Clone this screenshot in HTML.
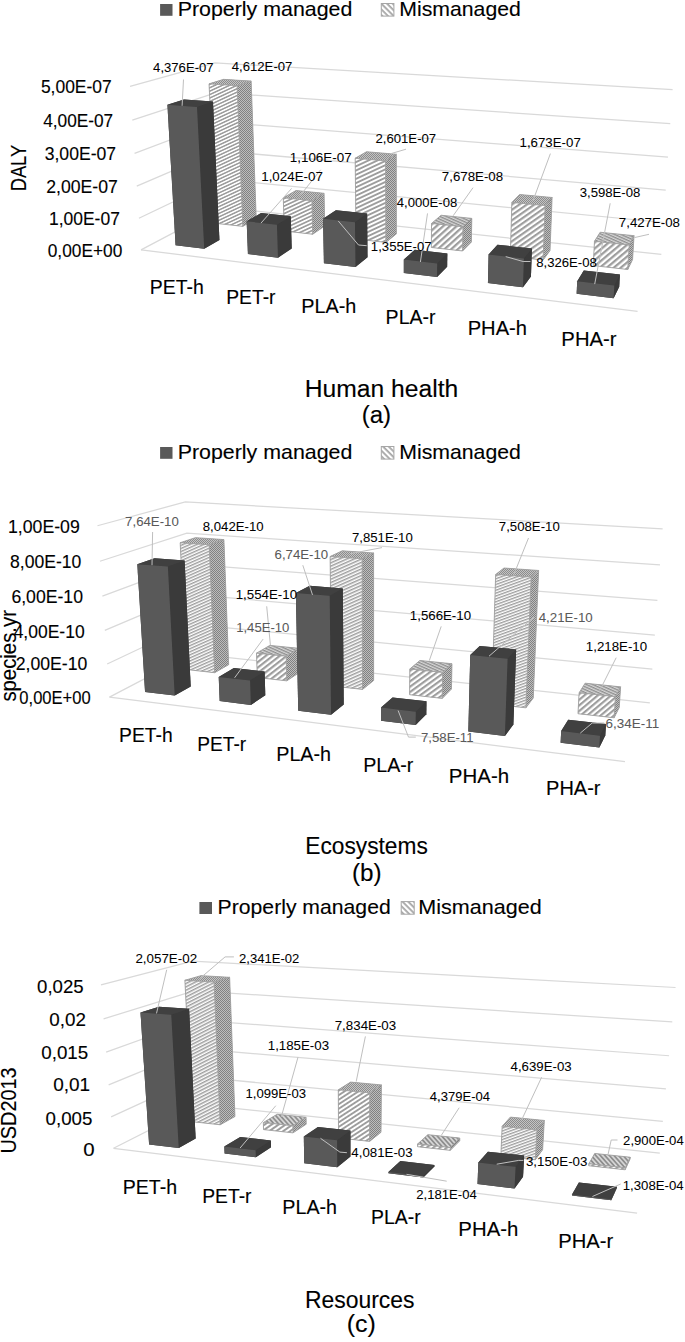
<!DOCTYPE html>
<html><head><meta charset="utf-8"><style>
html,body{margin:0;padding:0;background:#fff;overflow:hidden;}
svg{display:block;font-family:"Liberation Sans",sans-serif;}
</style></head><body>
<svg width="685" height="1342" viewBox="0 0 685 1342">
<defs>
<pattern id="front" patternUnits="userSpaceOnUse" width="4" height="4" patternTransform="rotate(-32)">
<rect width="4" height="4" fill="#fff"/><rect width="4" height="1.9" fill="#a3a3a3"/></pattern>
<pattern id="side" patternUnits="userSpaceOnUse" width="2" height="2">
<rect width="2" height="2" fill="#bdbdbd"/><rect width="1" height="1" fill="#818181"/><rect x="1" y="1" width="1" height="1" fill="#818181"/></pattern>
<pattern id="top" patternUnits="userSpaceOnUse" width="3" height="3" patternTransform="rotate(8)">
<rect width="3" height="3" fill="#c8c8c8"/><rect width="3" height="1.4" fill="#9a9a9a"/></pattern>
<pattern id="leg" patternUnits="userSpaceOnUse" width="4" height="4" patternTransform="rotate(45)">
<rect width="4" height="4" fill="#fff"/><rect width="4" height="1.8" fill="#a6a6a6"/></pattern>
<pattern id="pf0" patternUnits="userSpaceOnUse" width="3.10" height="3.10" patternTransform="rotate(-25.0)"><rect width="3.10" height="3.10" fill="#fff"/><rect width="3.10" height="1.55" fill="#9d9d9d"/></pattern>
<pattern id="pt1" patternUnits="userSpaceOnUse" width="2" height="2"><rect width="2" height="2" fill="#c4c4c4"/><rect width="1" height="1" fill="#8c8c8c"/><rect x="1" y="1" width="1" height="1" fill="#8c8c8c"/></pattern>
<pattern id="pf2" patternUnits="userSpaceOnUse" width="3.40" height="3.40" patternTransform="rotate(-25.0)"><rect width="3.40" height="3.40" fill="#fff"/><rect width="3.40" height="1.70" fill="#9d9d9d"/></pattern>
<pattern id="pt3" patternUnits="userSpaceOnUse" width="2" height="2"><rect width="2" height="2" fill="#c4c4c4"/><rect width="1" height="1" fill="#8c8c8c"/><rect x="1" y="1" width="1" height="1" fill="#8c8c8c"/></pattern>
<pattern id="pf4" patternUnits="userSpaceOnUse" width="3.80" height="3.80" patternTransform="rotate(-25.0)"><rect width="3.80" height="3.80" fill="#fff"/><rect width="3.80" height="1.90" fill="#9d9d9d"/></pattern>
<pattern id="pt5" patternUnits="userSpaceOnUse" width="2" height="2"><rect width="2" height="2" fill="#c4c4c4"/><rect width="1" height="1" fill="#8c8c8c"/><rect x="1" y="1" width="1" height="1" fill="#8c8c8c"/></pattern>
<pattern id="pf6" patternUnits="userSpaceOnUse" width="4.50" height="4.50" patternTransform="rotate(-42.0)"><rect width="4.50" height="4.50" fill="#fff"/><rect width="4.50" height="2.25" fill="#9d9d9d"/></pattern>
<pattern id="pt7" patternUnits="userSpaceOnUse" width="2.6" height="2.6" patternTransform="rotate(24.0)"><rect width="5" height="5" fill="#d6d6d6"/><rect width="5" height="1.30" fill="#8e8e8e"/></pattern>
<pattern id="pf8" patternUnits="userSpaceOnUse" width="4.30" height="4.30" patternTransform="rotate(-35.0)"><rect width="4.30" height="4.30" fill="#fff"/><rect width="4.30" height="2.15" fill="#9d9d9d"/></pattern>
<pattern id="pt9" patternUnits="userSpaceOnUse" width="2" height="2"><rect width="2" height="2" fill="#c4c4c4"/><rect width="1" height="1" fill="#8c8c8c"/><rect x="1" y="1" width="1" height="1" fill="#8c8c8c"/></pattern>
<pattern id="pf10" patternUnits="userSpaceOnUse" width="4.50" height="4.50" patternTransform="rotate(-40.0)"><rect width="4.50" height="4.50" fill="#fff"/><rect width="4.50" height="2.25" fill="#9d9d9d"/></pattern>
<pattern id="pt11" patternUnits="userSpaceOnUse" width="2.6" height="2.6" patternTransform="rotate(24.0)"><rect width="5" height="5" fill="#d6d6d6"/><rect width="5" height="1.30" fill="#8e8e8e"/></pattern>
<pattern id="pf12" patternUnits="userSpaceOnUse" width="2.80" height="2.80" patternTransform="rotate(-24.0)"><rect width="2.80" height="2.80" fill="#fff"/><rect width="2.80" height="1.40" fill="#9d9d9d"/></pattern>
<pattern id="pt13" patternUnits="userSpaceOnUse" width="2" height="2"><rect width="2" height="2" fill="#c4c4c4"/><rect width="1" height="1" fill="#8c8c8c"/><rect x="1" y="1" width="1" height="1" fill="#8c8c8c"/></pattern>
<pattern id="pf14" patternUnits="userSpaceOnUse" width="4.30" height="4.30" patternTransform="rotate(-38.0)"><rect width="4.30" height="4.30" fill="#fff"/><rect width="4.30" height="2.15" fill="#9d9d9d"/></pattern>
<pattern id="pt15" patternUnits="userSpaceOnUse" width="2.6" height="2.6" patternTransform="rotate(24.0)"><rect width="5" height="5" fill="#d6d6d6"/><rect width="5" height="1.30" fill="#8e8e8e"/></pattern>
<pattern id="pf16" patternUnits="userSpaceOnUse" width="3.00" height="3.00" patternTransform="rotate(-24.0)"><rect width="3.00" height="3.00" fill="#fff"/><rect width="3.00" height="1.50" fill="#9d9d9d"/></pattern>
<pattern id="pt17" patternUnits="userSpaceOnUse" width="2" height="2"><rect width="2" height="2" fill="#c4c4c4"/><rect width="1" height="1" fill="#8c8c8c"/><rect x="1" y="1" width="1" height="1" fill="#8c8c8c"/></pattern>
<pattern id="pf18" patternUnits="userSpaceOnUse" width="4.30" height="4.30" patternTransform="rotate(-36.0)"><rect width="4.30" height="4.30" fill="#fff"/><rect width="4.30" height="2.15" fill="#9d9d9d"/></pattern>
<pattern id="pt19" patternUnits="userSpaceOnUse" width="2.6" height="2.6" patternTransform="rotate(24.0)"><rect width="5" height="5" fill="#d6d6d6"/><rect width="5" height="1.30" fill="#8e8e8e"/></pattern>
<pattern id="pf20" patternUnits="userSpaceOnUse" width="2.70" height="2.70" patternTransform="rotate(-20.0)"><rect width="2.70" height="2.70" fill="#fff"/><rect width="2.70" height="1.35" fill="#9d9d9d"/></pattern>
<pattern id="pt21" patternUnits="userSpaceOnUse" width="2" height="2"><rect width="2" height="2" fill="#c4c4c4"/><rect width="1" height="1" fill="#8c8c8c"/><rect x="1" y="1" width="1" height="1" fill="#8c8c8c"/></pattern>
<pattern id="pf22" patternUnits="userSpaceOnUse" width="4.30" height="4.30" patternTransform="rotate(-40.0)"><rect width="4.30" height="4.30" fill="#fff"/><rect width="4.30" height="2.15" fill="#9d9d9d"/></pattern>
<pattern id="pt23" patternUnits="userSpaceOnUse" width="2.6" height="2.6" patternTransform="rotate(24.1)"><rect width="5" height="5" fill="#d6d6d6"/><rect width="5" height="1.30" fill="#8e8e8e"/></pattern>
<pattern id="pf24" patternUnits="userSpaceOnUse" width="3.00" height="3.00" patternTransform="rotate(-27.0)"><rect width="3.00" height="3.00" fill="#fff"/><rect width="3.00" height="1.50" fill="#9d9d9d"/></pattern>
<pattern id="pt25" patternUnits="userSpaceOnUse" width="2" height="2"><rect width="2" height="2" fill="#c4c4c4"/><rect width="1" height="1" fill="#8c8c8c"/><rect x="1" y="1" width="1" height="1" fill="#8c8c8c"/></pattern>
<pattern id="pf26" patternUnits="userSpaceOnUse" width="4.00" height="4.00" patternTransform="rotate(-35.0)"><rect width="4.00" height="4.00" fill="#fff"/><rect width="4.00" height="2.00" fill="#9d9d9d"/></pattern>
<pattern id="pt27" patternUnits="userSpaceOnUse" width="3.4" height="3.4" patternTransform="rotate(48.2)"><rect width="5" height="5" fill="#d6d6d6"/><rect width="5" height="1.70" fill="#8e8e8e"/></pattern>
<pattern id="pf28" patternUnits="userSpaceOnUse" width="3.80" height="3.80" patternTransform="rotate(-33.0)"><rect width="3.80" height="3.80" fill="#fff"/><rect width="3.80" height="1.90" fill="#9d9d9d"/></pattern>
<pattern id="pt29" patternUnits="userSpaceOnUse" width="2" height="2"><rect width="2" height="2" fill="#c4c4c4"/><rect width="1" height="1" fill="#8c8c8c"/><rect x="1" y="1" width="1" height="1" fill="#8c8c8c"/></pattern>
<pattern id="pf30" patternUnits="userSpaceOnUse" width="4.30" height="4.30" patternTransform="rotate(-40.0)"><rect width="4.30" height="4.30" fill="#fff"/><rect width="4.30" height="2.15" fill="#9d9d9d"/></pattern>
<pattern id="pt31" patternUnits="userSpaceOnUse" width="3.4" height="3.4" patternTransform="rotate(48.3)"><rect width="5" height="5" fill="#d6d6d6"/><rect width="5" height="1.70" fill="#8e8e8e"/></pattern>
<pattern id="pf32" patternUnits="userSpaceOnUse" width="2.70" height="2.70" patternTransform="rotate(-20.0)"><rect width="2.70" height="2.70" fill="#fff"/><rect width="2.70" height="1.35" fill="#9d9d9d"/></pattern>
<pattern id="pt33" patternUnits="userSpaceOnUse" width="2" height="2"><rect width="2" height="2" fill="#c4c4c4"/><rect width="1" height="1" fill="#8c8c8c"/><rect x="1" y="1" width="1" height="1" fill="#8c8c8c"/></pattern>
<pattern id="pf34" patternUnits="userSpaceOnUse" width="4.30" height="4.30" patternTransform="rotate(-40.0)"><rect width="4.30" height="4.30" fill="#fff"/><rect width="4.30" height="2.15" fill="#9d9d9d"/></pattern>
<pattern id="pt35" patternUnits="userSpaceOnUse" width="3.4" height="3.4" patternTransform="rotate(48.3)"><rect width="5" height="5" fill="#d6d6d6"/><rect width="5" height="1.70" fill="#8e8e8e"/></pattern>
</defs>
<rect x="160.10" y="4.00" width="12.4" height="11.8" fill="#595959"/>
<text x="177.69" y="16.00" font-size="20.29" fill="#000" stroke="#000" stroke-width="0.12" textLength="174.62" lengthAdjust="spacingAndGlyphs">Properly managed</text>
<rect x="381.30" y="3.50" width="12.6" height="12.6" fill="url(#leg)" stroke="#a6a6a6" stroke-width="1"/>
<text x="399.30" y="16.00" font-size="20.29" fill="#000" stroke="#000" stroke-width="0.12" textLength="121.57" lengthAdjust="spacingAndGlyphs">Mismanaged</text>
<text x="40.90" y="92.80" font-size="17.86" fill="#000" stroke="#000" stroke-width="0.12" textLength="70.84" lengthAdjust="spacingAndGlyphs">5,00E-07</text>
<text x="43.15" y="126.80" font-size="17.86" fill="#000" stroke="#000" stroke-width="0.12" textLength="70.08" lengthAdjust="spacingAndGlyphs">4,00E-07</text>
<text x="44.70" y="160.00" font-size="17.86" fill="#000" stroke="#000" stroke-width="0.12" textLength="71.35" lengthAdjust="spacingAndGlyphs">3,00E-07</text>
<text x="46.22" y="192.70" font-size="17.86" fill="#000" stroke="#000" stroke-width="0.12" textLength="71.63" lengthAdjust="spacingAndGlyphs">2,00E-07</text>
<text x="49.00" y="225.00" font-size="17.86" fill="#000" stroke="#000" stroke-width="0.12" textLength="70.84" lengthAdjust="spacingAndGlyphs">1,00E-07</text>
<text x="47.71" y="256.80" font-size="17.86" fill="#000" stroke="#000" stroke-width="0.12" textLength="74.57" lengthAdjust="spacingAndGlyphs">0,00E+00</text>
<text x="-1.47" y="0.00" font-size="21.43" fill="#000" stroke="#000" stroke-width="0.12" textLength="46.58" lengthAdjust="spacingAndGlyphs" transform="translate(25.9,189.9) rotate(-90)">DALY</text>
<polyline points="141.04,249.85 221.49,207.51 661.35,254.35" fill="none" stroke="#d9d9d9" stroke-width="1.25"/>
<polyline points="138.91,218.24 220.20,179.42 663.53,222.50" fill="none" stroke="#d9d9d9" stroke-width="1.25"/>
<polyline points="136.75,186.11 218.89,150.92 665.74,190.11" fill="none" stroke="#d9d9d9" stroke-width="1.25"/>
<polyline points="134.55,153.44 217.56,122.01 667.98,157.18" fill="none" stroke="#d9d9d9" stroke-width="1.25"/>
<polyline points="132.31,120.21 216.22,92.66 670.27,123.68" fill="none" stroke="#d9d9d9" stroke-width="1.25"/>
<polyline points="130.04,86.42 214.85,62.88 672.59,89.61" fill="none" stroke="#d9d9d9" stroke-width="1.25"/>
<polyline points="141.04,249.85 637.55,311.39" fill="none" stroke="#d9d9d9" stroke-width="1.25"/>
<polygon points="215.69,223.33 242.84,226.37 256.22,218.62 251.12,81.12 223.60,79.37 209.05,83.87" fill="#a0a0a0"/>
<polygon points="237.13,85.71 251.12,81.12 256.22,218.62 242.84,226.37" fill="url(#side)" stroke="#a0a0a0" stroke-width="0.9" stroke-linejoin="round"/>
<polygon points="209.05,83.87 223.60,79.37 251.12,81.12 237.13,85.71" fill="url(#pt1)" stroke="#a0a0a0" stroke-width="0.9" stroke-linejoin="round"/>
<polygon points="209.05,83.87 237.13,85.71 242.84,226.37 215.69,223.33" fill="url(#pf0)" stroke="#a0a0a0" stroke-width="0.9" stroke-linejoin="round"/>
<polygon points="284.28,231.01 312.70,234.19 324.69,226.08 324.06,193.31 295.98,190.54 283.29,197.77" fill="#a0a0a0"/>
<polygon points="311.94,200.67 324.06,193.31 324.69,226.08 312.70,234.19" fill="url(#side)" stroke="#a0a0a0" stroke-width="0.9" stroke-linejoin="round"/>
<polygon points="283.29,197.77 295.98,190.54 324.06,193.31 311.94,200.67" fill="url(#pt3)" stroke="#a0a0a0" stroke-width="0.9" stroke-linejoin="round"/>
<polygon points="283.29,197.77 311.94,200.67 312.70,234.19 284.28,231.01" fill="url(#pf2)" stroke="#a0a0a0" stroke-width="0.9" stroke-linejoin="round"/>
<polygon points="356.09,239.05 385.86,242.39 396.33,233.88 396.26,154.24 366.53,151.74 355.18,158.24" fill="#a0a0a0"/>
<polygon points="385.57,160.86 396.26,154.24 396.33,233.88 385.86,242.39" fill="url(#side)" stroke="#a0a0a0" stroke-width="0.9" stroke-linejoin="round"/>
<polygon points="355.18,158.24 366.53,151.74 396.26,154.24 385.57,160.86" fill="url(#pt5)" stroke="#a0a0a0" stroke-width="0.9" stroke-linejoin="round"/>
<polygon points="355.18,158.24 385.57,160.86 385.86,242.39 356.09,239.05" fill="url(#pf4)" stroke="#a0a0a0" stroke-width="0.9" stroke-linejoin="round"/>
<polygon points="431.35,247.48 462.57,250.98 471.35,242.06 471.79,218.38 441.08,215.26 431.55,223.46" fill="#a0a0a0"/>
<polygon points="462.97,226.74 471.79,218.38 471.35,242.06 462.57,250.98" fill="url(#side)" stroke="#a0a0a0" stroke-width="0.9" stroke-linejoin="round"/>
<polygon points="431.55,223.46 441.08,215.26 471.79,218.38 462.97,226.74" fill="url(#pt7)" stroke="#a0a0a0" stroke-width="0.9" stroke-linejoin="round"/>
<polygon points="431.55,223.46 462.97,226.74 462.57,250.98 431.35,247.48" fill="url(#pf6)" stroke="#a0a0a0" stroke-width="0.9" stroke-linejoin="round"/>
<polygon points="510.31,256.32 543.10,259.99 550.01,250.62 552.09,197.50 519.61,194.49 511.87,202.40" fill="#a0a0a0"/>
<polygon points="545.14,205.58 552.09,197.50 550.01,250.62 543.10,259.99" fill="url(#side)" stroke="#a0a0a0" stroke-width="0.9" stroke-linejoin="round"/>
<polygon points="511.87,202.40 519.61,194.49 552.09,197.50 545.14,205.58" fill="url(#pt9)" stroke="#a0a0a0" stroke-width="0.9" stroke-linejoin="round"/>
<polygon points="511.87,202.40 545.14,205.58 543.10,259.99 510.31,256.32" fill="url(#pf8)" stroke="#a0a0a0" stroke-width="0.9" stroke-linejoin="round"/>
<polygon points="593.26,265.61 627.73,269.47 632.56,259.62 634.02,235.69 600.18,232.24 594.48,241.31" fill="#a0a0a0"/>
<polygon points="629.19,244.95 634.02,235.69 632.56,259.62 627.73,269.47" fill="url(#side)" stroke="#a0a0a0" stroke-width="0.9" stroke-linejoin="round"/>
<polygon points="594.48,241.31 600.18,232.24 634.02,235.69 629.19,244.95" fill="url(#pt11)" stroke="#a0a0a0" stroke-width="0.9" stroke-linejoin="round"/>
<polygon points="594.48,241.31 629.19,244.95 627.73,269.47 593.26,265.61" fill="url(#pf10)" stroke="#a0a0a0" stroke-width="0.9" stroke-linejoin="round"/>
<polygon points="175.60,245.29 204.22,248.75 219.45,239.92 212.97,101.51 184.00,99.44 167.42,104.78" fill="#3a3a3a"/>
<polygon points="197.00,106.96 212.97,101.51 219.45,239.92 204.22,248.75" fill="#3a3a3a"/>
<polygon points="167.42,104.78 184.00,99.44 212.97,101.51 197.00,106.96" fill="#404040"/>
<polygon points="167.42,104.78 197.00,106.96 204.22,248.75 175.60,245.29" fill="#595959"/>
<polygon points="247.95,254.04 277.99,257.67 291.69,248.40 290.79,216.19 261.15,213.02 246.66,221.34" fill="#3a3a3a"/>
<polygon points="276.94,224.68 290.79,216.19 291.69,248.40 277.99,257.67" fill="#3a3a3a"/>
<polygon points="246.66,221.34 261.15,213.02 290.79,216.19 276.94,224.68" fill="#404040"/>
<polygon points="246.66,221.34 276.94,224.68 277.99,257.67 247.95,254.04" fill="#595959"/>
<polygon points="323.93,263.23 355.51,267.05 367.50,257.30 367.14,213.59 335.93,210.36 323.06,218.84" fill="#3a3a3a"/>
<polygon points="354.99,222.25 367.14,213.59 367.50,257.30 355.51,267.05" fill="#3a3a3a"/>
<polygon points="323.06,218.84 335.93,210.36 367.14,213.59 354.99,222.25" fill="#404040"/>
<polygon points="323.06,218.84 354.99,222.25 355.51,267.05 323.93,263.23" fill="#595959"/>
<polygon points="403.83,272.89 437.06,276.91 447.15,266.65 447.32,253.56 414.76,249.87 403.84,259.59" fill="#3a3a3a"/>
<polygon points="437.19,263.49 447.32,253.56 447.15,266.65 437.06,276.91" fill="#3a3a3a"/>
<polygon points="403.84,259.59 414.76,249.87 447.32,253.56 437.19,263.49" fill="#404040"/>
<polygon points="403.84,259.59 437.19,263.49 437.06,276.91 403.83,272.89" fill="#595959"/>
<polygon points="487.95,283.06 522.97,287.30 530.94,276.49 531.91,248.48 497.51,244.74 488.61,254.62" fill="#3a3a3a"/>
<polygon points="523.90,258.57 531.91,248.48 530.94,276.49 522.97,287.30" fill="#3a3a3a"/>
<polygon points="488.61,254.62 497.51,244.74 531.91,248.48 523.90,258.57" fill="#404040"/>
<polygon points="488.61,254.62 523.90,258.57 522.97,287.30 487.95,283.06" fill="#595959"/>
<polygon points="576.64,293.79 613.60,298.26 619.20,286.84 619.91,274.51 583.81,270.40 577.22,281.25" fill="#3a3a3a"/>
<polygon points="614.31,285.60 619.91,274.51 619.20,286.84 613.60,298.26" fill="#3a3a3a"/>
<polygon points="577.22,281.25 583.81,270.40 619.91,274.51 614.31,285.60" fill="#404040"/>
<polygon points="577.22,281.25 614.31,285.60 613.60,298.26 576.64,293.79" fill="#595959"/>
<text x="149.85" y="294.30" font-size="19.43" fill="#000" stroke="#000" stroke-width="0.12" textLength="53.99" lengthAdjust="spacingAndGlyphs">PET-h</text>
<text x="226.26" y="303.50" font-size="19.43" fill="#000" stroke="#000" stroke-width="0.12" textLength="49.24" lengthAdjust="spacingAndGlyphs">PET-r</text>
<text x="301.22" y="313.10" font-size="19.43" fill="#000" stroke="#000" stroke-width="0.12" textLength="55.06" lengthAdjust="spacingAndGlyphs">PLA-h</text>
<text x="385.64" y="323.80" font-size="19.43" fill="#000" stroke="#000" stroke-width="0.12" textLength="49.87" lengthAdjust="spacingAndGlyphs">PLA-r</text>
<text x="467.69" y="334.70" font-size="19.43" fill="#000" stroke="#000" stroke-width="0.12" textLength="59.33" lengthAdjust="spacingAndGlyphs">PHA-h</text>
<text x="561.38" y="346.00" font-size="19.43" fill="#000" stroke="#000" stroke-width="0.12" textLength="55.17" lengthAdjust="spacingAndGlyphs">PHA-r</text>
<text x="304.73" y="397.10" font-size="23.14" fill="#000" stroke="#000" stroke-width="0.12" textLength="153.49" lengthAdjust="spacingAndGlyphs">Human health</text>
<text x="361.65" y="422.90" font-size="23.14" fill="#000" stroke="#000" stroke-width="0.12" textLength="29.44" lengthAdjust="spacingAndGlyphs">(a)</text>
<polyline points="183.50,79.50 182.10,105.80" fill="none" stroke="#bfbfbf" stroke-width="1.00"/>
<polyline points="291.60,188.40 261.00,223.10" fill="none" stroke="#bfbfbf" stroke-width="1.00"/>
<polyline points="320.60,169.80 297.00,199.60" fill="none" stroke="#bfbfbf" stroke-width="1.00"/>
<polyline points="406.00,149.20 390.10,153.90" fill="none" stroke="#bfbfbf" stroke-width="1.00"/>
<polyline points="338.20,220.90 358.50,245.00 366.70,245.70" fill="none" stroke="#bfbfbf" stroke-width="1.00"/>
<polyline points="427.50,213.40 420.40,262.00" fill="none" stroke="#bfbfbf" stroke-width="1.00"/>
<polyline points="473.00,187.70 453.10,215.80" fill="none" stroke="#bfbfbf" stroke-width="1.00"/>
<polyline points="550.40,153.60 533.00,200.70" fill="none" stroke="#bfbfbf" stroke-width="1.00"/>
<polyline points="505.70,256.60 523.10,261.50 530.50,261.50" fill="none" stroke="#bfbfbf" stroke-width="1.00"/>
<polyline points="649.00,234.30 634.40,237.60" fill="none" stroke="#bfbfbf" stroke-width="1.00"/>
<polyline points="610.20,203.30 594.70,284.10" fill="none" stroke="#bfbfbf" stroke-width="1.00"/>
<text x="153.14" y="72.00" font-size="12.43" fill="#000" stroke="#000" stroke-width="0.05" textLength="60.44" lengthAdjust="spacingAndGlyphs">4,376E-07</text>
<text x="231.74" y="71.40" font-size="12.43" fill="#000" stroke="#000" stroke-width="0.05" textLength="60.65" lengthAdjust="spacingAndGlyphs">4,612E-07</text>
<text x="289.73" y="162.30" font-size="12.43" fill="#000" stroke="#000" stroke-width="0.05" textLength="61.97" lengthAdjust="spacingAndGlyphs">1,106E-07</text>
<text x="261.23" y="181.00" font-size="12.43" fill="#000" stroke="#000" stroke-width="0.05" textLength="61.66" lengthAdjust="spacingAndGlyphs">1,024E-07</text>
<text x="375.44" y="143.40" font-size="12.43" fill="#000" stroke="#000" stroke-width="0.05" textLength="60.74" lengthAdjust="spacingAndGlyphs">2,601E-07</text>
<text x="370.85" y="250.80" font-size="12.43" fill="#000" stroke="#000" stroke-width="0.05" textLength="60.74" lengthAdjust="spacingAndGlyphs">1,355E-07</text>
<text x="396.84" y="206.90" font-size="12.43" fill="#000" stroke="#000" stroke-width="0.05" textLength="60.44" lengthAdjust="spacingAndGlyphs">4,000E-08</text>
<text x="441.84" y="181.00" font-size="12.43" fill="#000" stroke="#000" stroke-width="0.05" textLength="61.25" lengthAdjust="spacingAndGlyphs">7,678E-08</text>
<text x="519.54" y="147.40" font-size="12.43" fill="#000" stroke="#000" stroke-width="0.05" textLength="61.25" lengthAdjust="spacingAndGlyphs">1,673E-07</text>
<text x="536.17" y="267.00" font-size="12.43" fill="#000" stroke="#000" stroke-width="0.05" textLength="60.71" lengthAdjust="spacingAndGlyphs">8,326E-08</text>
<text x="579.67" y="196.50" font-size="12.43" fill="#000" stroke="#000" stroke-width="0.05" textLength="60.71" lengthAdjust="spacingAndGlyphs">3,598E-08</text>
<text x="618.84" y="227.00" font-size="12.43" fill="#000" stroke="#000" stroke-width="0.05" textLength="61.15" lengthAdjust="spacingAndGlyphs">7,427E-08</text>
<rect x="160.10" y="447.00" width="12.4" height="11.8" fill="#595959"/>
<text x="177.69" y="459.30" font-size="20.29" fill="#000" stroke="#000" stroke-width="0.12" textLength="174.62" lengthAdjust="spacingAndGlyphs">Properly managed</text>
<rect x="381.30" y="446.50" width="12.6" height="12.6" fill="url(#leg)" stroke="#a6a6a6" stroke-width="1"/>
<text x="399.30" y="459.30" font-size="20.29" fill="#000" stroke="#000" stroke-width="0.12" textLength="121.57" lengthAdjust="spacingAndGlyphs">Mismanaged</text>
<text x="7.99" y="533.00" font-size="17.86" fill="#000" stroke="#000" stroke-width="0.12" textLength="71.77" lengthAdjust="spacingAndGlyphs">1,00E-09</text>
<text x="10.00" y="567.90" font-size="17.86" fill="#000" stroke="#000" stroke-width="0.12" textLength="71.27" lengthAdjust="spacingAndGlyphs">8,00E-10</text>
<text x="11.42" y="602.50" font-size="17.86" fill="#000" stroke="#000" stroke-width="0.12" textLength="71.56" lengthAdjust="spacingAndGlyphs">6,00E-10</text>
<text x="13.65" y="637.70" font-size="17.86" fill="#000" stroke="#000" stroke-width="0.12" textLength="71.02" lengthAdjust="spacingAndGlyphs">4,00E-10</text>
<text x="15.72" y="669.60" font-size="17.86" fill="#000" stroke="#000" stroke-width="0.12" textLength="71.56" lengthAdjust="spacingAndGlyphs">2,00E-10</text>
<text x="19.34" y="703.90" font-size="17.86" fill="#000" stroke="#000" stroke-width="0.12" textLength="71.31" lengthAdjust="spacingAndGlyphs">0,00E+00</text>
<text x="-0.61" y="0.00" font-size="21.43" fill="#000" stroke="#000" stroke-width="0.12" textLength="91.54" lengthAdjust="spacingAndGlyphs" transform="translate(15.8,701) rotate(-90)">species.yr</text>
<polyline points="109.48,697.09 192.59,653.72 649.87,702.78" fill="none" stroke="#d9d9d9" stroke-width="1.25"/>
<polyline points="107.16,664.03 191.19,624.30 652.34,669.24" fill="none" stroke="#d9d9d9" stroke-width="1.25"/>
<polyline points="104.79,630.38 189.76,594.42 654.84,635.08" fill="none" stroke="#d9d9d9" stroke-width="1.25"/>
<polyline points="102.38,596.13 188.32,564.07 657.40,600.31" fill="none" stroke="#d9d9d9" stroke-width="1.25"/>
<polyline points="99.93,561.26 186.85,533.24 660.00,564.90" fill="none" stroke="#d9d9d9" stroke-width="1.25"/>
<polyline points="97.44,525.76 185.35,501.92 662.64,528.83" fill="none" stroke="#d9d9d9" stroke-width="1.25"/>
<polyline points="109.48,697.09 625.00,761.74" fill="none" stroke="#d9d9d9" stroke-width="1.25"/>
<polygon points="186.46,669.52 214.61,672.70 228.67,664.64 223.88,539.59 195.41,537.65 180.18,542.74" fill="#a0a0a0"/>
<polygon points="209.22,544.78 223.88,539.59 228.67,664.64 214.61,672.70" fill="url(#side)" stroke="#a0a0a0" stroke-width="0.9" stroke-linejoin="round"/>
<polygon points="180.18,542.74 195.41,537.65 223.88,539.59 209.22,544.78" fill="url(#pt13)" stroke="#a0a0a0" stroke-width="0.9" stroke-linejoin="round"/>
<polygon points="180.18,542.74 209.22,544.78 214.61,672.70 186.46,669.52" fill="url(#pf12)" stroke="#a0a0a0" stroke-width="0.9" stroke-linejoin="round"/>
<polygon points="257.28,677.52 286.80,680.85 299.43,672.39 298.96,648.35 269.86,645.39 256.53,653.14" fill="#a0a0a0"/>
<polygon points="286.23,656.25 298.96,648.35 299.43,672.39 286.80,680.85" fill="url(#side)" stroke="#a0a0a0" stroke-width="0.9" stroke-linejoin="round"/>
<polygon points="256.53,653.14 269.86,645.39 298.96,648.35 286.23,656.25" fill="url(#pt15)" stroke="#a0a0a0" stroke-width="0.9" stroke-linejoin="round"/>
<polygon points="256.53,653.14 286.23,656.25 286.80,680.85 257.28,677.52" fill="url(#pf14)" stroke="#a0a0a0" stroke-width="0.9" stroke-linejoin="round"/>
<polygon points="331.57,685.90 362.56,689.40 373.61,680.53 373.59,553.01 342.25,550.84 330.12,556.53" fill="#a0a0a0"/>
<polygon points="362.16,558.81 373.59,553.01 373.61,680.53 362.56,689.40" fill="url(#side)" stroke="#a0a0a0" stroke-width="0.9" stroke-linejoin="round"/>
<polygon points="330.12,556.53 342.25,550.84 373.59,553.01 362.16,558.81" fill="url(#pt17)" stroke="#a0a0a0" stroke-width="0.9" stroke-linejoin="round"/>
<polygon points="330.12,556.53 362.16,558.81 362.56,689.40 331.57,685.90" fill="url(#pf16)" stroke="#a0a0a0" stroke-width="0.9" stroke-linejoin="round"/>
<polygon points="409.59,694.70 442.16,698.38 451.44,689.06 451.96,663.74 419.91,660.47 409.83,669.01" fill="#a0a0a0"/>
<polygon points="442.63,672.45 451.96,663.74 451.44,689.06 442.16,698.38" fill="url(#side)" stroke="#a0a0a0" stroke-width="0.9" stroke-linejoin="round"/>
<polygon points="409.83,669.01 419.91,660.47 451.96,663.74 442.63,672.45" fill="url(#pt19)" stroke="#a0a0a0" stroke-width="0.9" stroke-linejoin="round"/>
<polygon points="409.83,669.01 442.63,672.45 442.16,698.38 409.59,694.70" fill="url(#pf18)" stroke="#a0a0a0" stroke-width="0.9" stroke-linejoin="round"/>
<polygon points="491.62,703.96 525.89,707.83 533.22,698.03 538.61,570.48 503.98,568.02 495.67,574.48" fill="#a0a0a0"/>
<polygon points="531.18,577.07 538.61,570.48 533.22,698.03 525.89,707.83" fill="url(#side)" stroke="#a0a0a0" stroke-width="0.9" stroke-linejoin="round"/>
<polygon points="495.67,574.48 503.98,568.02 538.61,570.48 531.18,577.07" fill="url(#pt21)" stroke="#a0a0a0" stroke-width="0.9" stroke-linejoin="round"/>
<polygon points="495.67,574.48 531.18,577.07 525.89,707.83 491.62,703.96" fill="url(#pf20)" stroke="#a0a0a0" stroke-width="0.9" stroke-linejoin="round"/>
<polygon points="577.98,713.71 614.10,717.78 619.24,707.46 620.59,686.87 585.17,683.20 579.12,692.80" fill="#a0a0a0"/>
<polygon points="615.45,696.67 620.59,686.87 619.24,707.46 614.10,717.78" fill="url(#side)" stroke="#a0a0a0" stroke-width="0.9" stroke-linejoin="round"/>
<polygon points="579.12,692.80 585.17,683.20 620.59,686.87 615.45,696.67" fill="url(#pt23)" stroke="#a0a0a0" stroke-width="0.9" stroke-linejoin="round"/>
<polygon points="579.12,692.80 615.45,696.67 614.10,717.78 577.98,713.71" fill="url(#pf22)" stroke="#a0a0a0" stroke-width="0.9" stroke-linejoin="round"/>
<polygon points="145.08,691.96 174.71,695.58 190.71,686.41 184.59,560.47 154.65,558.19 137.31,564.17" fill="#3a3a3a"/>
<polygon points="167.88,566.57 184.59,560.47 190.71,686.41 174.71,695.58" fill="#3a3a3a"/>
<polygon points="137.31,564.17 154.65,558.19 184.59,560.47 167.88,566.57" fill="#404040"/>
<polygon points="137.31,564.17 167.88,566.57 174.71,695.58 145.08,691.96" fill="#595959"/>
<polygon points="219.70,701.07 250.88,704.88 265.29,695.23 264.61,671.43 233.91,668.04 218.71,676.92" fill="#3a3a3a"/>
<polygon points="250.08,680.50 264.61,671.43 265.29,695.23 250.88,704.88" fill="#3a3a3a"/>
<polygon points="218.71,676.92 233.91,668.04 264.61,671.43 250.08,680.50" fill="#404040"/>
<polygon points="218.71,676.92 250.08,680.50 250.88,704.88 219.70,701.07" fill="#595959"/>
<polygon points="298.24,710.66 331.07,714.67 343.72,704.52 342.78,588.54 309.72,585.85 295.85,592.90" fill="#3a3a3a"/>
<polygon points="329.70,595.74 342.78,588.54 343.72,704.52 331.07,714.67" fill="#3a3a3a"/>
<polygon points="295.85,592.90 309.72,585.85 342.78,588.54 329.70,595.74" fill="#404040"/>
<polygon points="295.85,592.90 329.70,595.74 331.07,714.67 298.24,710.66" fill="#595959"/>
<polygon points="380.99,720.77 415.62,725.00 426.30,714.29 426.48,701.29 392.55,697.42 381.02,707.57" fill="#3a3a3a"/>
<polygon points="415.77,711.67 426.48,701.29 426.30,714.29 415.62,725.00" fill="#3a3a3a"/>
<polygon points="381.02,707.57 392.55,697.42 426.48,701.29 415.77,711.67" fill="#404040"/>
<polygon points="381.02,707.57 415.77,711.67 415.62,725.00 380.99,720.77" fill="#595959"/>
<polygon points="468.32,731.43 504.90,735.90 513.35,724.60 516.16,649.42 479.76,645.94 470.25,655.06" fill="#3a3a3a"/>
<polygon points="507.61,658.74 516.16,649.42 513.35,724.60 504.90,735.90" fill="#3a3a3a"/>
<polygon points="470.25,655.06 479.76,645.94 516.16,649.42 507.61,658.74" fill="#404040"/>
<polygon points="470.25,655.06 507.61,658.74 504.90,735.90 468.32,731.43" fill="#595959"/>
<polygon points="560.61,742.70 599.31,747.43 605.27,735.48 605.98,724.07 568.20,719.72 561.19,731.11" fill="#3a3a3a"/>
<polygon points="600.02,735.72 605.98,724.07 605.27,735.48 599.31,747.43" fill="#3a3a3a"/>
<polygon points="561.19,731.11 568.20,719.72 605.98,724.07 600.02,735.72" fill="#404040"/>
<polygon points="561.19,731.11 600.02,735.72 599.31,747.43 560.61,742.70" fill="#595959"/>
<text x="119.06" y="741.50" font-size="19.43" fill="#000" stroke="#000" stroke-width="0.12" textLength="53.57" lengthAdjust="spacingAndGlyphs">PET-h</text>
<text x="197.37" y="750.70" font-size="19.43" fill="#000" stroke="#000" stroke-width="0.12" textLength="48.83" lengthAdjust="spacingAndGlyphs">PET-r</text>
<text x="276.22" y="761.30" font-size="19.43" fill="#000" stroke="#000" stroke-width="0.12" textLength="54.84" lengthAdjust="spacingAndGlyphs">PLA-h</text>
<text x="363.23" y="771.80" font-size="19.43" fill="#000" stroke="#000" stroke-width="0.12" textLength="50.19" lengthAdjust="spacingAndGlyphs">PLA-r</text>
<text x="448.86" y="783.30" font-size="19.43" fill="#000" stroke="#000" stroke-width="0.12" textLength="60.27" lengthAdjust="spacingAndGlyphs">PHA-h</text>
<text x="546.10" y="794.90" font-size="19.43" fill="#000" stroke="#000" stroke-width="0.12" textLength="54.44" lengthAdjust="spacingAndGlyphs">PHA-r</text>
<text x="305.28" y="853.90" font-size="23.14" fill="#000" stroke="#000" stroke-width="0.12" textLength="122.53" lengthAdjust="spacingAndGlyphs">Ecosystems</text>
<text x="352.04" y="880.90" font-size="23.14" fill="#000" stroke="#000" stroke-width="0.12" textLength="29.66" lengthAdjust="spacingAndGlyphs">(b)</text>
<polyline points="152.60,532.00 152.00,565.20" fill="none" stroke="#bfbfbf" stroke-width="1.00"/>
<polyline points="302.80,565.20 312.50,594.90" fill="none" stroke="#bfbfbf" stroke-width="1.00"/>
<polyline points="382.00,547.60 350.50,553.60" fill="none" stroke="#bfbfbf" stroke-width="1.00"/>
<polyline points="266.70,606.30 270.40,645.00" fill="none" stroke="#bfbfbf" stroke-width="1.00"/>
<polyline points="263.10,639.10 234.60,677.80" fill="none" stroke="#bfbfbf" stroke-width="1.00"/>
<polyline points="441.20,626.40 429.30,660.60" fill="none" stroke="#bfbfbf" stroke-width="1.00"/>
<polyline points="398.10,710.50 408.50,737.10 415.80,737.10" fill="none" stroke="#bfbfbf" stroke-width="1.00"/>
<polyline points="528.50,538.00 513.50,575.40" fill="none" stroke="#bfbfbf" stroke-width="1.00"/>
<polyline points="533.90,617.30 489.00,656.20" fill="none" stroke="#bfbfbf" stroke-width="1.00"/>
<polyline points="616.20,657.70 599.70,690.60" fill="none" stroke="#bfbfbf" stroke-width="1.00"/>
<polyline points="580.30,733.10 592.20,723.00 604.20,723.00" fill="none" stroke="#bfbfbf" stroke-width="1.00"/>
<text x="125.14" y="526.30" font-size="12.43" fill="#595959" stroke="#595959" stroke-width="0.05" textLength="53.67" lengthAdjust="spacingAndGlyphs">7,64E-10</text>
<text x="202.77" y="530.70" font-size="12.43" fill="#000" stroke="#000" stroke-width="0.05" textLength="60.88" lengthAdjust="spacingAndGlyphs">8,042E-10</text>
<text x="274.54" y="559.40" font-size="12.43" fill="#595959" stroke="#595959" stroke-width="0.05" textLength="53.67" lengthAdjust="spacingAndGlyphs">6,74E-10</text>
<text x="351.94" y="541.50" font-size="12.43" fill="#000" stroke="#000" stroke-width="0.05" textLength="60.81" lengthAdjust="spacingAndGlyphs">7,851E-10</text>
<text x="235.74" y="599.00" font-size="12.43" fill="#000" stroke="#000" stroke-width="0.05" textLength="61.32" lengthAdjust="spacingAndGlyphs">1,554E-10</text>
<text x="236.15" y="631.80" font-size="12.43" fill="#595959" stroke="#595959" stroke-width="0.05" textLength="53.25" lengthAdjust="spacingAndGlyphs">1,45E-10</text>
<text x="409.84" y="619.80" font-size="12.43" fill="#000" stroke="#000" stroke-width="0.05" textLength="61.22" lengthAdjust="spacingAndGlyphs">1,566E-10</text>
<text x="421.04" y="742.10" font-size="12.43" fill="#595959" stroke="#595959" stroke-width="0.05" textLength="52.44" lengthAdjust="spacingAndGlyphs">7,58E-11</text>
<text x="498.84" y="531.40" font-size="12.43" fill="#000" stroke="#000" stroke-width="0.05" textLength="60.91" lengthAdjust="spacingAndGlyphs">7,508E-10</text>
<text x="538.73" y="622.40" font-size="12.43" fill="#595959" stroke="#595959" stroke-width="0.05" textLength="53.98" lengthAdjust="spacingAndGlyphs">4,21E-10</text>
<text x="585.84" y="650.80" font-size="12.43" fill="#000" stroke="#000" stroke-width="0.05" textLength="61.32" lengthAdjust="spacingAndGlyphs">1,218E-10</text>
<text x="605.63" y="728.00" font-size="12.43" fill="#595959" stroke="#595959" stroke-width="0.05" textLength="53.67" lengthAdjust="spacingAndGlyphs">6,34E-11</text>
<rect x="199.4" y="902" width="12.6" height="12" fill="#595959"/>
<text x="217.61" y="914.30" font-size="20.29" fill="#000" stroke="#000" stroke-width="0.12" textLength="173.09" lengthAdjust="spacingAndGlyphs">Properly managed</text>
<rect x="401.2" y="901.6" width="13" height="12.6" fill="url(#leg)" stroke="#a6a6a6" stroke-width="1"/>
<text x="418.28" y="914.20" font-size="20.29" fill="#000" stroke="#000" stroke-width="0.12" textLength="123.42" lengthAdjust="spacingAndGlyphs">Mismanaged</text>
<text x="37.06" y="992.60" font-size="17.86" fill="#000" stroke="#000" stroke-width="0.12" textLength="46.54" lengthAdjust="spacingAndGlyphs">0,025</text>
<text x="49.35" y="1025.80" font-size="17.86" fill="#000" stroke="#000" stroke-width="0.12" textLength="36.62" lengthAdjust="spacingAndGlyphs">0,02</text>
<text x="41.25" y="1059.10" font-size="17.86" fill="#000" stroke="#000" stroke-width="0.12" textLength="46.95" lengthAdjust="spacingAndGlyphs">0,015</text>
<text x="53.24" y="1091.40" font-size="17.86" fill="#000" stroke="#000" stroke-width="0.12" textLength="36.93" lengthAdjust="spacingAndGlyphs">0,01</text>
<text x="45.55" y="1124.70" font-size="17.86" fill="#000" stroke="#000" stroke-width="0.12" textLength="46.85" lengthAdjust="spacingAndGlyphs">0,005</text>
<text x="83.28" y="1155.50" font-size="17.86" fill="#000" stroke="#000" stroke-width="0.12" textLength="11.35" lengthAdjust="spacingAndGlyphs">0</text>
<text x="-1.59" y="0.00" font-size="21.43" fill="#000" stroke="#000" stroke-width="0.12" textLength="86.20" lengthAdjust="spacingAndGlyphs" transform="translate(16.1,1152) rotate(-90)">USD2013</text>
<polyline points="113.52,1148.29 199.52,1104.75 659.81,1153.04" fill="none" stroke="#d9d9d9" stroke-width="1.25"/>
<polyline points="111.11,1116.89 198.16,1076.99 662.84,1121.26" fill="none" stroke="#d9d9d9" stroke-width="1.25"/>
<polyline points="108.65,1084.87 196.78,1048.76 665.93,1088.84" fill="none" stroke="#d9d9d9" stroke-width="1.25"/>
<polyline points="106.14,1052.20 195.37,1020.03 669.08,1055.75" fill="none" stroke="#d9d9d9" stroke-width="1.25"/>
<polyline points="103.59,1018.87 193.93,990.79 672.29,1021.98" fill="none" stroke="#d9d9d9" stroke-width="1.25"/>
<polyline points="100.98,984.85 192.48,961.03 675.57,987.50" fill="none" stroke="#d9d9d9" stroke-width="1.25"/>
<polyline points="113.52,1148.29 637.09,1213.15" fill="none" stroke="#d9d9d9" stroke-width="1.25"/>
<polygon points="192.17,1121.66 220.21,1124.78 234.94,1116.54 229.63,977.34 201.03,975.64 184.88,980.30" fill="#a0a0a0"/>
<polygon points="214.09,982.11 229.63,977.34 234.94,1116.54 220.21,1124.78" fill="url(#side)" stroke="#a0a0a0" stroke-width="0.9" stroke-linejoin="round"/>
<polygon points="184.88,980.30 201.03,975.64 229.63,977.34 214.09,982.11" fill="url(#pt25)" stroke="#a0a0a0" stroke-width="0.9" stroke-linejoin="round"/>
<polygon points="184.88,980.30 214.09,982.11 220.21,1124.78 192.17,1121.66" fill="url(#pf24)" stroke="#a0a0a0" stroke-width="0.9" stroke-linejoin="round"/>
<polygon points="263.54,1129.59 293.01,1132.87 306.18,1124.21 306.07,1117.29 277.18,1114.25 263.33,1122.57" fill="#a0a0a0"/>
<polygon points="292.87,1125.78 306.07,1117.29 306.18,1124.21 293.01,1132.87" fill="url(#side)" stroke="#a0a0a0" stroke-width="0.9" stroke-linejoin="round"/>
<polygon points="263.33,1122.57 277.18,1114.25 306.07,1117.29 292.87,1125.78" fill="url(#pt27)" stroke="#a0a0a0" stroke-width="0.9" stroke-linejoin="round"/>
<polygon points="263.33,1122.57 292.87,1125.78 293.01,1132.87 263.54,1129.59" fill="url(#pf26)" stroke="#a0a0a0" stroke-width="0.9" stroke-linejoin="round"/>
<polygon points="338.57,1137.93 369.59,1141.38 381.01,1132.27 381.36,1084.91 350.62,1082.08 338.29,1089.83" fill="#a0a0a0"/>
<polygon points="369.77,1092.82 381.36,1084.91 381.01,1132.27 369.59,1141.38" fill="url(#side)" stroke="#a0a0a0" stroke-width="0.9" stroke-linejoin="round"/>
<polygon points="338.29,1089.83 350.62,1082.08 381.36,1084.91 369.77,1092.82" fill="url(#pt29)" stroke="#a0a0a0" stroke-width="0.9" stroke-linejoin="round"/>
<polygon points="338.29,1089.83 369.77,1092.82 369.59,1141.38 338.57,1137.93" fill="url(#pf28)" stroke="#a0a0a0" stroke-width="0.9" stroke-linejoin="round"/>
<polygon points="417.56,1146.71 450.24,1150.34 459.72,1140.75 459.80,1138.07 427.90,1134.67 417.61,1144.00" fill="#a0a0a0"/>
<polygon points="450.32,1147.60 459.80,1138.07 459.72,1140.75 450.24,1150.34" fill="url(#side)" stroke="#a0a0a0" stroke-width="0.9" stroke-linejoin="round"/>
<polygon points="417.61,1144.00 427.90,1134.67 459.80,1138.07 450.32,1147.60" fill="url(#pt31)" stroke="#a0a0a0" stroke-width="0.9" stroke-linejoin="round"/>
<polygon points="417.61,1144.00 450.32,1147.60 450.24,1150.34 417.56,1146.71" fill="url(#pf30)" stroke="#a0a0a0" stroke-width="0.9" stroke-linejoin="round"/>
<polygon points="500.83,1155.96 535.30,1159.79 542.61,1149.67 544.31,1120.46 510.40,1117.12 502.17,1126.27" fill="#a0a0a0"/>
<polygon points="536.99,1129.81 544.31,1120.46 542.61,1149.67 535.30,1159.79" fill="url(#side)" stroke="#a0a0a0" stroke-width="0.9" stroke-linejoin="round"/>
<polygon points="502.17,1126.27 510.40,1117.12 544.31,1120.46 536.99,1129.81" fill="url(#pt33)" stroke="#a0a0a0" stroke-width="0.9" stroke-linejoin="round"/>
<polygon points="502.17,1126.27 536.99,1129.81 535.30,1159.79 500.83,1155.96" fill="url(#pf32)" stroke="#a0a0a0" stroke-width="0.9" stroke-linejoin="round"/>
<polygon points="588.72,1165.73 625.15,1169.78 630.02,1159.09 630.18,1157.23 594.73,1153.44 588.86,1163.84" fill="#a0a0a0"/>
<polygon points="625.31,1167.87 630.18,1157.23 630.02,1159.09 625.15,1169.78" fill="url(#side)" stroke="#a0a0a0" stroke-width="0.9" stroke-linejoin="round"/>
<polygon points="588.86,1163.84 594.73,1153.44 630.18,1157.23 625.31,1167.87" fill="url(#pt35)" stroke="#a0a0a0" stroke-width="0.9" stroke-linejoin="round"/>
<polygon points="588.86,1163.84 625.31,1167.87 625.15,1169.78 588.72,1165.73" fill="url(#pf34)" stroke="#a0a0a0" stroke-width="0.9" stroke-linejoin="round"/>
<polygon points="149.12,1144.40 178.75,1147.98 195.66,1138.52 189.08,1008.81 159.00,1006.65 140.49,1012.55" fill="#3a3a3a"/>
<polygon points="171.27,1014.83 189.08,1008.81 195.66,1138.52 178.75,1147.98" fill="#3a3a3a"/>
<polygon points="140.49,1012.55 159.00,1006.65 189.08,1008.81 171.27,1014.83" fill="#404040"/>
<polygon points="140.49,1012.55 171.27,1014.83 178.75,1147.98 149.12,1144.40" fill="#595959"/>
<polygon points="224.61,1153.53 255.85,1157.31 271.03,1147.33 270.84,1140.50 240.25,1136.99 224.31,1146.59" fill="#3a3a3a"/>
<polygon points="255.63,1150.30 270.84,1140.50 271.03,1147.33 255.85,1157.31" fill="#3a3a3a"/>
<polygon points="224.31,1146.59 240.25,1136.99 270.84,1140.50 255.63,1150.30" fill="#404040"/>
<polygon points="224.31,1146.59 255.63,1150.30 255.85,1157.31 224.61,1153.53" fill="#595959"/>
<polygon points="304.25,1163.16 337.26,1167.15 350.48,1156.61 350.42,1130.48 317.96,1126.97 303.81,1136.59" fill="#3a3a3a"/>
<polygon points="337.09,1140.32 350.42,1130.48 350.48,1156.61 337.26,1167.15" fill="#3a3a3a"/>
<polygon points="303.81,1136.59 317.96,1126.97 350.42,1130.48 337.09,1140.32" fill="#404040"/>
<polygon points="303.81,1136.59 337.09,1140.32 337.26,1167.15 304.25,1163.16" fill="#595959"/>
<polygon points="388.43,1173.34 423.34,1177.56 434.35,1166.42 434.39,1165.00 400.37,1161.04 388.44,1171.89" fill="#3a3a3a"/>
<polygon points="423.38,1176.10 434.39,1165.00 434.35,1166.42 423.34,1177.56" fill="#3a3a3a"/>
<polygon points="388.44,1171.89 400.37,1161.04 434.39,1165.00 423.38,1176.10" fill="#404040"/>
<polygon points="388.44,1171.89 423.38,1176.10 423.34,1177.56 388.43,1173.34" fill="#595959"/>
<polygon points="477.52,1184.11 514.52,1188.58 523.04,1176.78 524.15,1155.62 487.92,1151.63 478.34,1162.58" fill="#3a3a3a"/>
<polygon points="515.61,1166.83 524.15,1155.62 523.04,1176.78 514.52,1188.58" fill="#3a3a3a"/>
<polygon points="478.34,1162.58 487.92,1151.63 524.15,1155.62 515.61,1166.83" fill="#404040"/>
<polygon points="478.34,1162.58 515.61,1166.83 514.52,1188.58 477.52,1184.11" fill="#595959"/>
<polygon points="571.97,1195.53 611.25,1200.28 616.95,1187.76 617.03,1186.87 578.90,1182.42 572.03,1194.62" fill="#3a3a3a"/>
<polygon points="611.32,1199.36 617.03,1186.87 616.95,1187.76 611.25,1200.28" fill="#3a3a3a"/>
<polygon points="572.03,1194.62 578.90,1182.42 617.03,1186.87 611.32,1199.36" fill="#404040"/>
<polygon points="572.03,1194.62 611.32,1199.36 611.25,1200.28 571.97,1195.53" fill="#595959"/>
<text x="122.74" y="1193.50" font-size="19.43" fill="#000" stroke="#000" stroke-width="0.12" textLength="54.31" lengthAdjust="spacingAndGlyphs">PET-h</text>
<text x="202.26" y="1202.80" font-size="19.43" fill="#000" stroke="#000" stroke-width="0.12" textLength="49.24" lengthAdjust="spacingAndGlyphs">PET-r</text>
<text x="282.32" y="1213.80" font-size="19.43" fill="#000" stroke="#000" stroke-width="0.12" textLength="54.74" lengthAdjust="spacingAndGlyphs">PLA-h</text>
<text x="371.05" y="1223.90" font-size="19.43" fill="#000" stroke="#000" stroke-width="0.12" textLength="49.56" lengthAdjust="spacingAndGlyphs">PLA-r</text>
<text x="458.37" y="1236.30" font-size="19.43" fill="#000" stroke="#000" stroke-width="0.12" textLength="59.96" lengthAdjust="spacingAndGlyphs">PHA-h</text>
<text x="558.18" y="1248.10" font-size="19.43" fill="#000" stroke="#000" stroke-width="0.12" textLength="54.96" lengthAdjust="spacingAndGlyphs">PHA-r</text>
<text x="304.97" y="1308.40" font-size="23.14" fill="#000" stroke="#000" stroke-width="0.12" textLength="109.54" lengthAdjust="spacingAndGlyphs">Resources</text>
<text x="346.70" y="1332.30" font-size="23.14" fill="#000" stroke="#000" stroke-width="0.12" textLength="29.15" lengthAdjust="spacingAndGlyphs">(c)</text>
<polyline points="166.70,969.80 156.50,1013.40" fill="none" stroke="#bfbfbf" stroke-width="1.00"/>
<polyline points="233.90,956.90 225.10,956.90 198.80,979.40" fill="none" stroke="#bfbfbf" stroke-width="1.00"/>
<polyline points="365.40,1036.40 356.20,1081.60" fill="none" stroke="#bfbfbf" stroke-width="1.00"/>
<polyline points="298.00,1057.20 281.30,1116.80" fill="none" stroke="#bfbfbf" stroke-width="1.00"/>
<polyline points="275.80,1105.70 240.10,1148.00" fill="none" stroke="#bfbfbf" stroke-width="1.00"/>
<polyline points="320.50,1138.30 339.90,1152.10 346.90,1152.70" fill="none" stroke="#bfbfbf" stroke-width="1.00"/>
<polyline points="459.20,1107.70 441.20,1135.50" fill="none" stroke="#bfbfbf" stroke-width="1.00"/>
<polyline points="406.50,1174.30 446.70,1181.20" fill="none" stroke="#bfbfbf" stroke-width="1.00"/>
<polyline points="541.60,1077.30 521.80,1119.60" fill="none" stroke="#bfbfbf" stroke-width="1.00"/>
<polyline points="496.70,1164.20 518.70,1160.40 523.40,1160.40" fill="none" stroke="#bfbfbf" stroke-width="1.00"/>
<polyline points="617.50,1140.00 611.20,1140.00 608.10,1154.20" fill="none" stroke="#bfbfbf" stroke-width="1.00"/>
<polyline points="620.70,1184.00 592.40,1196.50" fill="none" stroke="#bfbfbf" stroke-width="1.00"/>
<text x="135.43" y="963.40" font-size="12.43" fill="#000" stroke="#000" stroke-width="0.05" textLength="61.66" lengthAdjust="spacingAndGlyphs">2,057E-02</text>
<text x="239.05" y="963.40" font-size="12.43" fill="#000" stroke="#000" stroke-width="0.05" textLength="60.23" lengthAdjust="spacingAndGlyphs">2,341E-02</text>
<text x="334.73" y="1030.00" font-size="12.43" fill="#000" stroke="#000" stroke-width="0.05" textLength="61.46" lengthAdjust="spacingAndGlyphs">7,834E-03</text>
<text x="267.74" y="1050.20" font-size="12.43" fill="#000" stroke="#000" stroke-width="0.05" textLength="61.35" lengthAdjust="spacingAndGlyphs">1,185E-03</text>
<text x="245.55" y="1098.20" font-size="12.43" fill="#000" stroke="#000" stroke-width="0.05" textLength="60.53" lengthAdjust="spacingAndGlyphs">1,099E-03</text>
<text x="351.33" y="1157.10" font-size="12.43" fill="#000" stroke="#000" stroke-width="0.05" textLength="61.25" lengthAdjust="spacingAndGlyphs">4,081E-03</text>
<text x="429.84" y="1100.80" font-size="12.43" fill="#000" stroke="#000" stroke-width="0.05" textLength="60.28" lengthAdjust="spacingAndGlyphs">4,379E-04</text>
<text x="416.35" y="1198.70" font-size="12.43" fill="#000" stroke="#000" stroke-width="0.05" textLength="60.37" lengthAdjust="spacingAndGlyphs">2,181E-04</text>
<text x="510.53" y="1071.00" font-size="12.43" fill="#000" stroke="#000" stroke-width="0.05" textLength="61.15" lengthAdjust="spacingAndGlyphs">4,639E-03</text>
<text x="525.97" y="1166.10" font-size="12.43" fill="#000" stroke="#000" stroke-width="0.05" textLength="61.42" lengthAdjust="spacingAndGlyphs">3,150E-03</text>
<text x="623.14" y="1145.40" font-size="12.43" fill="#000" stroke="#000" stroke-width="0.05" textLength="60.58" lengthAdjust="spacingAndGlyphs">2,900E-04</text>
<text x="622.74" y="1190.30" font-size="12.43" fill="#000" stroke="#000" stroke-width="0.05" textLength="60.98" lengthAdjust="spacingAndGlyphs">1,308E-04</text>
</svg></body></html>
